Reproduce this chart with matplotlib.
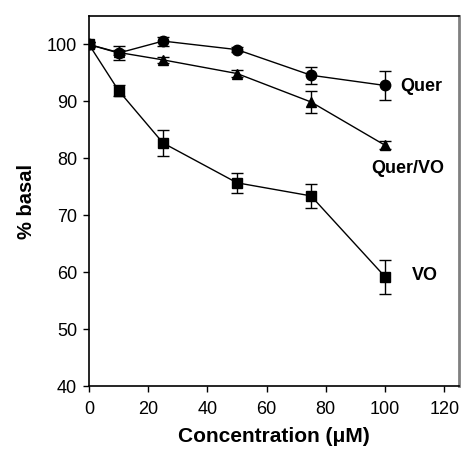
import numpy as np
import matplotlib
matplotlib.use("Agg")
import matplotlib.pyplot as plt

plt.rcParams['font.family'] = ['Liberation Sans', 'DejaVu Sans']

conc = [0, 10, 25, 50, 75, 100]

quer = [100, 98.5, 100.6, 99.1, 94.6, 92.8]
quer_err = [0.4, 1.3, 0.8, 0.5, 1.5, 2.5]

quer_vo = [100, 98.6, 97.3, 94.9, 89.9, 82.3]
quer_vo_err = [0.4, 0.5, 0.5, 0.6, 2.0, 0.7]

vo = [100, 91.9, 82.7, 75.7, 73.4, 59.2]
vo_err = [0.4, 1.0, 2.3, 1.8, 2.1, 3.0]

series = [
    (quer, quer_err, 'o', 7.5, 'Quer', (105, 92.6)),
    (quer_vo, quer_vo_err, '^', 7, 'Quer/VO', (95.3, 78.2)),
    (vo, vo_err, 's', 7.5, 'VO', (109, 59.4)),
]

fig = plt.figure(figsize=(4.62, 4.49), dpi=100)
ax = fig.add_axes([0.1926, 0.1403, 0.8009, 0.824])

for vals, err, mk, ms, name, pos in series:
    ax.errorbar(conc, vals, yerr=err, fmt='-', marker=mk, color='black',
                ms=ms, lw=1.0, elinewidth=1.0, capsize=4.3, capthick=1.0)
    ax.text(pos[0], pos[1], name, fontsize=13, fontweight='bold',
            va='center', ha='left')

ax.set_xlim(0, 125)
ax.set_ylim(40, 105)
ax.set_xticks(np.arange(0, 121, 20))
ax.set_yticks(np.arange(40, 101, 10))
ax.tick_params(direction='out', length=4.5, width=1, labelsize=13)
ax.tick_params(axis='x', pad=6)
ax.tick_params(axis='y', pad=4)

ax.set_xlabel('Concentration (\u03bcM)', fontsize=15, fontweight='bold', labelpad=7)
ax.set_ylabel('% basal', fontsize=14.5, fontweight='bold', labelpad=8)

for side in ['left', 'bottom', 'top']:
    ax.spines[side].set_linewidth(1.2)
ax.spines['right'].set_color('#808080')
ax.spines['right'].set_linewidth(2)

fig.savefig('out.png', dpi=100)
